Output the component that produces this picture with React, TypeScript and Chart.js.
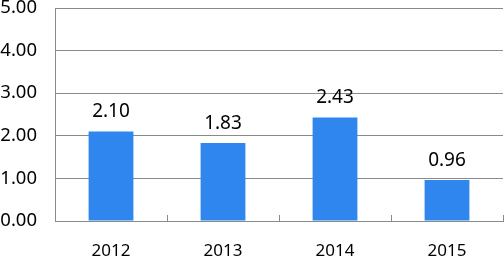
import React, { useEffect, useRef } from "react";
import { Chart, registerables } from "chart.js";

Chart.register(...registerables);

const categories = ["2012", "2013", "2014", "2015"];
const values = [2.1, 1.83, 2.43, 0.96];
const yTicks = [0, 1, 2, 3, 4, 5];

const FONT = "'Noto Sans', sans-serif";
const GRID = "#8a8a8a";

const valueLabels = {
  id: "valueLabels",
  afterDatasetsDraw(chart: any) {
    const ctx = chart.ctx;
    const meta = chart.getDatasetMeta(0);
    ctx.save();
    ctx.font = `19px ${FONT}`;
    ctx.fillStyle = "#000";
    ctx.textAlign = "center";
    ctx.textBaseline = "alphabetic";
    meta.data.forEach((el: any, i: number) => {
      ctx.fillText(values[i].toFixed(2), el.x, el.y - 14.5);
    });
    ctx.restore();
  },
};

export default function App() {
  const ref = useRef<HTMLCanvasElement>(null);
  useEffect(() => {
    document.body.style.margin = "0";
    const chart = new Chart(ref.current!, {
      type: "bar",
      data: {
        labels: categories,
        datasets: [
          {
            data: values,
            backgroundColor: "#2f86ee",
            borderWidth: 0,
            categoryPercentage: 1,
            barPercentage: 0.4,
          },
        ],
      },
      options: {
        animation: false,
        responsive: false,
        layout: { padding: { top: 8, right: 1, left: 0, bottom: 0 } },
        plugins: { legend: { display: false }, tooltip: { enabled: false } },
        scales: {
          x: {
            offset: true,
            grid: {
              offset: true,
              drawOnChartArea: false,
              drawTicks: true,
              tickLength: -6,
              color: GRID,
            },
            border: { color: GRID, width: 1 },
            ticks: {
              color: "#000",
              font: { family: FONT, size: 17 },
              padding: 26,
              maxRotation: 0,
            },
            afterFit(scale: any) {
              scale.height = 37;
              scale.paddingLeft = 0;
              scale.paddingRight = 0;
            },
          },
          y: {
            min: yTicks[0],
            max: yTicks[yTicks.length - 1],
            afterBuildTicks(scale: any) {
              scale.ticks = yTicks.map((v) => ({ value: v }));
            },
            grid: { color: GRID, drawTicks: false },
            border: { color: GRID, width: 1 },
            ticks: {
              color: "#000",
              font: { family: FONT, size: 18.5 },
              padding: 18,
              callback: (v: any) => Number(v).toFixed(2),
            },
            afterFit(scale: any) {
              scale.width = 55;
              scale.paddingTop = 0;
              scale.paddingBottom = 0;
            },
          },
        },
      },
      plugins: [valueLabels],
    });
    return () => chart.destroy();
  }, []);
  return <canvas ref={ref} width={504} height={258} style={{ display: "block" }} />;
}
